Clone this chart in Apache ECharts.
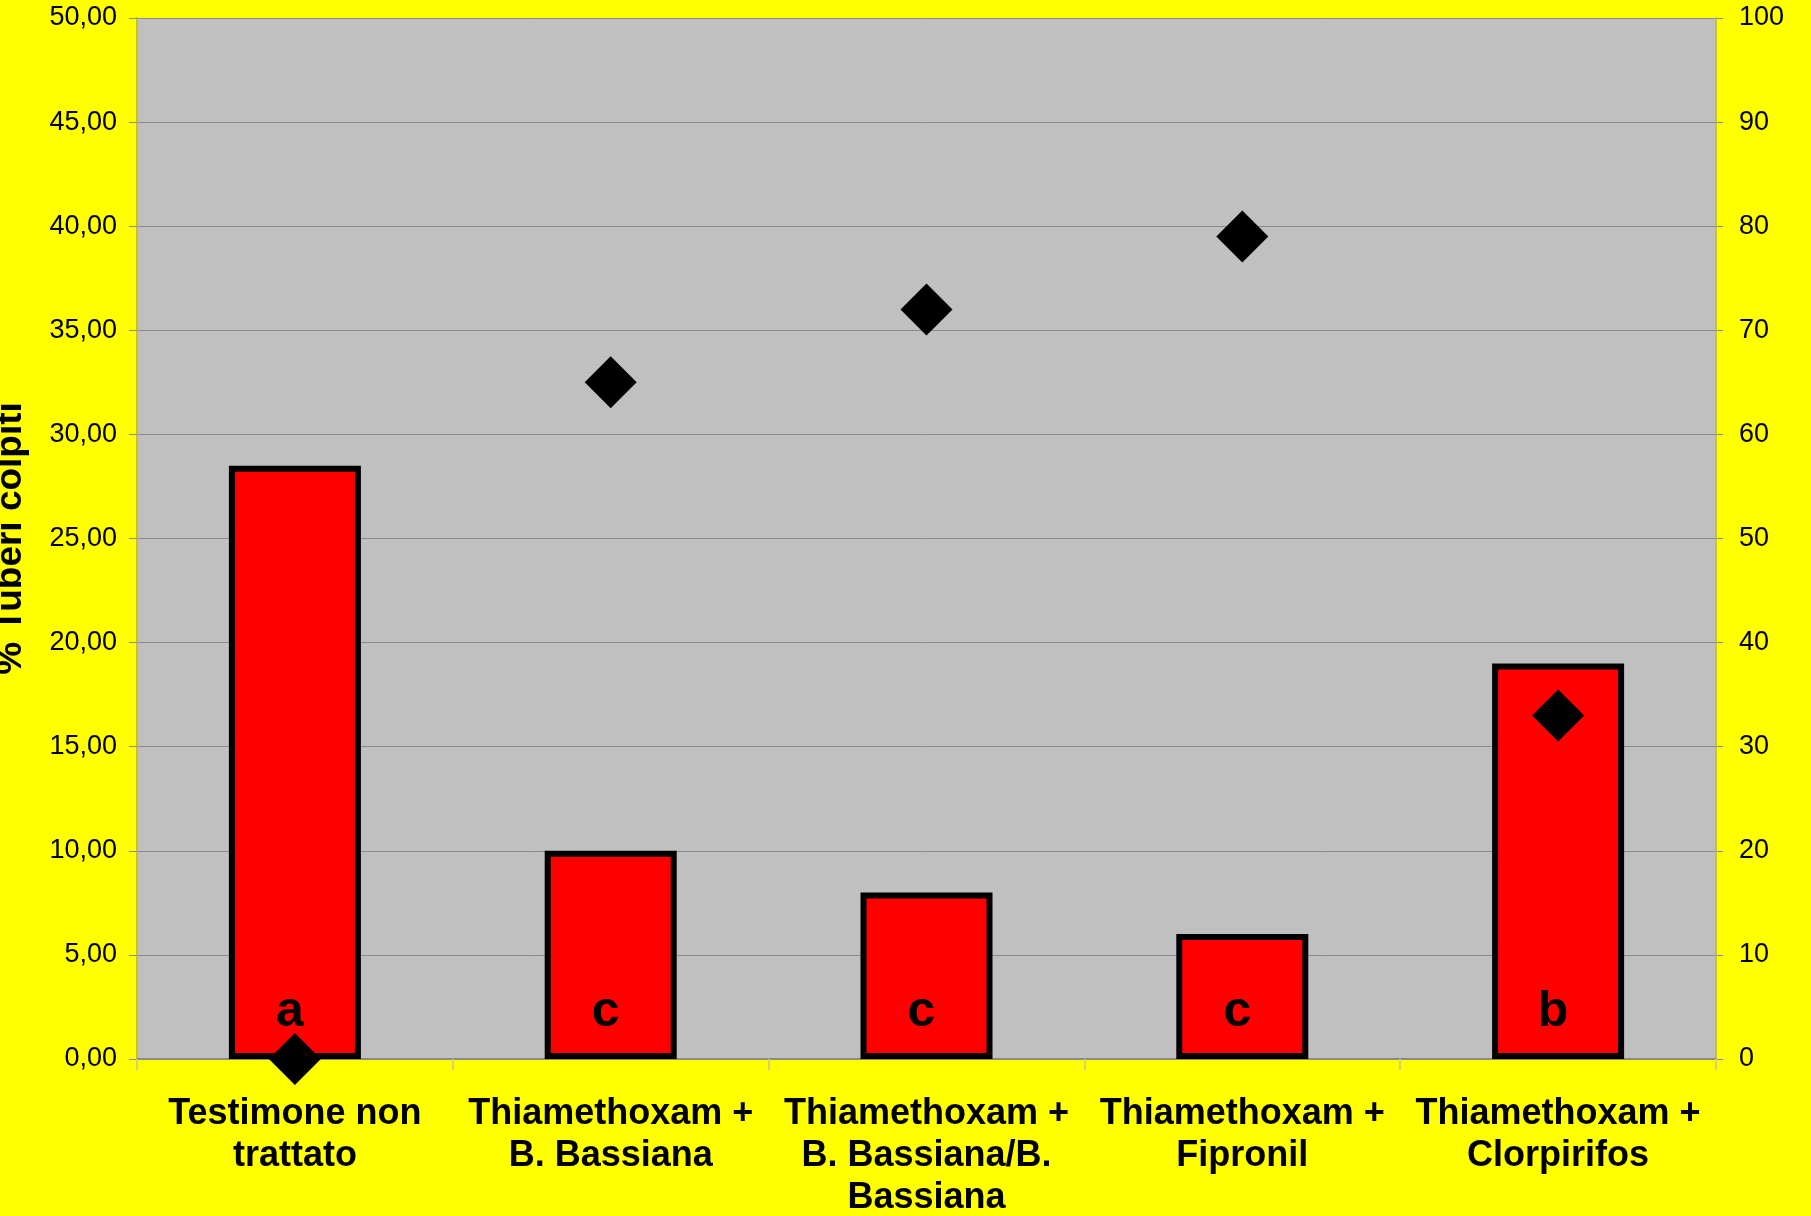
<!DOCTYPE html>
<html>
<head>
<meta charset="utf-8">
<script src="https://cdn.jsdelivr.net/npm/echarts@6/dist/echarts.min.js"></script>
<style>
html,body{margin:0;padding:0;background:#FFFF00;}
#c{width:1811px;height:1216px;}
</style>
</head>
<body>
<div id="c"></div>
<script>
var categories = [
  'Testimone non\ntrattato',
  'Thiamethoxam +\nB. Bassiana',
  'Thiamethoxam +\nB. Bassiana/B.\nBassiana',
  'Thiamethoxam +\nFipronil',
  'Thiamethoxam +\nClorpirifos'
];
var tuberiColpiti = [28.5, 10, 8, 6, 19];
var efficacia = [0, 65, 72, 79, 33];
var letters = ['a', 'c', 'c', 'c', 'b'];
var yAxisName = '% Tuberi colpiti';

var FONT = "'Liberation Sans', Arial, sans-serif";
var chart = echarts.init(document.getElementById('c'), null, {renderer: 'canvas'});
chart.setOption({
  backgroundColor: '#FFFF00',
  animation: false,
  grid: {
    left: 137, right: 95, top: 18, bottom: 157,
    containLabel: false, outerBoundsMode: 'none',
    show: true, backgroundColor: '#C0C0C0', borderWidth: 0
  },
  xAxis: {
    type: 'category',
    data: categories,
    axisLine: {lineStyle: {color: '#8a8a8a', width: 2}},
    axisTick: {show: true, length: 11, lineStyle: {color: '#d4d46a', width: 2}},
    axisLabel: {
      margin: 34, color: '#000', fontFamily: FONT, fontWeight: 'bold',
      fontSize: 36, lineHeight: 42, interval: 0
    },
    splitLine: {show: false}
  },
  yAxis: [
    {
      type: 'value', min: 0, max: 50, interval: 5,
      name: yAxisName, nameLocation: 'middle', nameGap: 108, nameRotate: 90,
      nameTextStyle: {color: '#000', fontFamily: FONT, fontWeight: 'bold', fontSize: 37},
      axisLine: {show: true, lineStyle: {color: '#c4c41c', width: 2}},
      axisTick: {show: true, length: 8, lineStyle: {color: '#8a8a8a'}},
      axisLabel: {
        margin: 20, color: '#000', fontFamily: FONT, fontSize: 27,
        formatter: function (v) { return v.toFixed(2).replace('.', ','); }
      },
      splitLine: {show: true, lineStyle: {color: '#8a8a8a', width: 1}}
    },
    {
      type: 'value', min: 0, max: 100, interval: 10, position: 'right',
      axisLine: {show: true, lineStyle: {color: '#c4c41c', width: 2}},
      axisTick: {show: true, length: 7, lineStyle: {color: '#8a8a8a'}},
      axisLabel: {margin: 23, color: '#000', fontFamily: FONT, fontSize: 27},
      splitLine: {show: false}
    }
  ],
  series: [
    {
      type: 'bar',
      yAxisIndex: 0,
      data: tuberiColpiti,
      barWidth: 132,
      itemStyle: {color: '#FF0000', borderColor: '#000', borderWidth: 6},
      label: {
        show: true, position: 'insideBottom', distance: 22, offset: [-5, 0],
        formatter: function (p) { return letters[p.dataIndex]; },
        color: '#000', fontFamily: FONT, fontWeight: 'bold', fontSize: 50
      },
      z: 2
    },
    {
      type: 'scatter',
      yAxisIndex: 1,
      data: efficacia,
      symbol: 'diamond',
      symbolSize: 52,
      clip: false,
      itemStyle: {color: '#000', opacity: 1},
      z: 3
    }
  ]
});
</script>
</body>
</html>
